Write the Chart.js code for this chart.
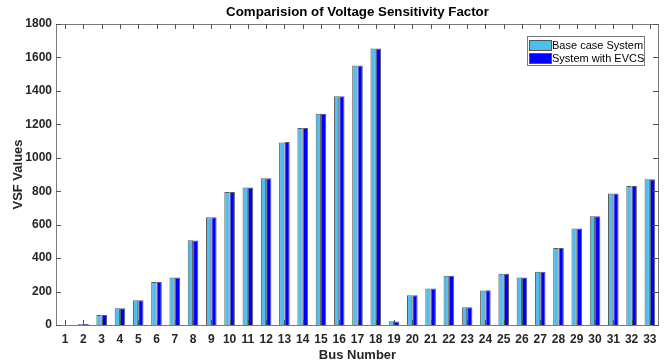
<!DOCTYPE html>
<html>
<head>
<meta charset="utf-8">
<script src="https://cdn.jsdelivr.net/npm/chart.js@4.4.1/dist/chart.umd.min.js"></script>
<style>
  html, body { margin: 0; padding: 0; background: #fff; }
  .chart-parent { width: 668px; height: 363px; position: relative; }
</style>
</head>
<body>
<div class="chart-parent">
  <canvas id="myChart" width="668" height="363"></canvas>
</div>
<script>
// bus numbers on the x axis
const buses = Array.from({ length: 33 }, (_, i) => String(i + 1));
// VSF values
const baseVSF = [0, 6, 60, 100, 148, 257, 284, 507, 645, 795, 823, 877, 1092, 1178, 1263, 1368, 1552, 1653,
  22, 178, 219, 294, 106, 207, 307, 284, 319, 461, 577, 650, 786, 831, 871];
const evcsVSF = [0, 6, 60, 100, 148, 257, 284, 506, 645, 795, 823, 877, 1094, 1178, 1263, 1368, 1552, 1653,
  21, 178, 219, 294, 106, 208, 307, 284, 319, 461, 577, 650, 786, 831, 871];
const yTicks = [0, 200, 400, 600, 800, 1000, 1200, 1400, 1600, 1800];

const titleText = 'Comparision of Voltage Sensitivity Factor';
const FONT = '"Liberation Sans", Arial, Helvetica, sans-serif';

// box, inward ticks, title and legend like the matlab figure
const matlabDecor = {
  id: 'matlabDecor',
  afterDatasetsDraw(chart) {
    const { ctx, chartArea: a, scales } = chart;
    ctx.save();
    ctx.strokeStyle = '#7a7a7a';
    ctx.lineWidth = 1;
    ctx.strokeRect(Math.round(a.left) + 0.5, Math.round(a.top) + 0.5,
      Math.round(a.right - a.left) - 1, Math.round(a.bottom - a.top));

    ctx.strokeStyle = '#505050';
    ctx.beginPath();
    scales.x.ticks.forEach((t, i) => {
      const x = Math.round(scales.x.getPixelForTick(i)) + 0.5;
      ctx.moveTo(x, a.top); ctx.lineTo(x, a.top + 5);
      ctx.moveTo(x, a.bottom); ctx.lineTo(x, a.bottom - 5);
    });
    yTicks.forEach(v => {
      const y = Math.round(scales.y.getPixelForValue(v)) + 0.5;
      ctx.moveTo(a.left, y); ctx.lineTo(a.left + 5, y);
      ctx.moveTo(a.right, y); ctx.lineTo(a.right - 6, y);
    });
    ctx.stroke();

    // title
    ctx.fillStyle = '#000';
    ctx.font = 'bold 13.3px ' + FONT;
    ctx.textAlign = 'center';
    ctx.textBaseline = 'middle';
    ctx.fillText(titleText, (a.left + a.right) / 2, 12);

    // legend
    const lx = 527, ly = 36, lw = 117, lh = 29;
    ctx.fillStyle = '#fff';
    ctx.fillRect(lx, ly, lw, lh);
    ctx.strokeStyle = '#7a7a7a';
    ctx.strokeRect(lx + 0.5, ly + 0.5, lw, lh);
    ctx.font = '11px ' + FONT;
    ctx.textAlign = 'left';
    chart.data.datasets.forEach((ds, i) => {
      const sy = ly + 4 + i * 13;
      ctx.fillStyle = ds.backgroundColor;
      ctx.fillRect(lx + 2, sy, 22, 10);
      ctx.strokeStyle = '#555';
      ctx.strokeRect(lx + 2.5, sy + 0.5, 22, 10);
      ctx.fillStyle = '#000';
      ctx.fillText(ds.label, lx + 25, sy + 5.5);
    });
    ctx.restore();
  }
};

const ctx = document.getElementById('myChart');
const myChart = new Chart(ctx, {
  type: 'bar',
  data: {
    labels: buses,
    datasets: [
      {
        label: 'Base case System',
        data: baseVSF,
        backgroundColor: '#4DBEEE',
        borderColor: '#5a5a5a',
        borderWidth: 1,
      },
      {
        label: 'System with EVCS',
        data: evcsVSF,
        backgroundColor: '#0000FF',
        borderColor: '#5a5a5a',
        borderWidth: 1,
      },
    ],
  },
  options: {
    responsive: false,
    animation: false,
    layout: { padding: { top: 24, right: 9, left: 0, bottom: 0 } },
    datasets: { bar: { categoryPercentage: 0.58, barPercentage: 1.0 } },
    plugins: {
      legend: { display: false },
      title: { display: false },
      tooltip: { enabled: false },
    },
    scales: {
      x: {
        grid: { display: false, drawTicks: false },
        border: { display: false },
        ticks: {
          color: '#262626',
          font: { family: FONT, size: 12, weight: 'bold' },
          padding: 7,
          maxRotation: 0,
          autoSkip: false,
        },
        title: {
          display: true,
          text: 'Bus Number',
          color: '#262626',
          font: { family: FONT, size: 13, weight: 'bold' },
          padding: { top: 0, bottom: 0 },
        },
        afterFit(scale) { scale.height = 38; },
      },
      y: {
        min: 0,
        max: 1800,
        grid: { display: false, drawTicks: false },
        border: { display: false },
        afterBuildTicks(scale) { scale.ticks = yTicks.map(v => ({ value: v })); },
        ticks: {
          color: '#262626',
          font: { family: FONT, size: 12, weight: 'bold' },
          padding: 4,
          callback: v => String(v),
        },
        title: {
          display: true,
          text: 'VSF Values',
          color: '#262626',
          font: { family: FONT, size: 13, weight: 'bold' },
          padding: { top: 11, bottom: 4 },
        },
        afterFit(scale) { scale.width = 56; },
      },
    },
  },
  plugins: [matlabDecor],
});
</script>
</body>
</html>
